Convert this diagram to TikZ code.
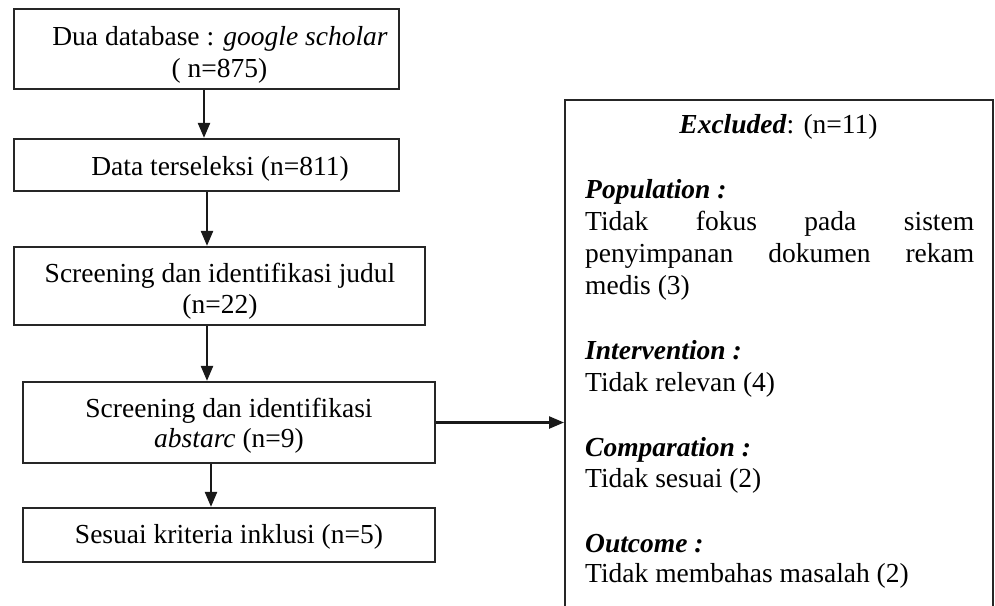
\documentclass[tikz,border=0pt]{standalone}
\usepackage{fontspec}
\setmainfont{Liberation Serif}
\usetikzlibrary{arrows.meta}
\tikzset{
  box/.style={draw=black!85, line width=2.2pt, inner sep=0pt, fill=none},
  txt/.style={inner sep=0pt, anchor=base, font=\fontsize{27.5}{32}\selectfont},
  ltxt/.style={txt, anchor=base west},
  arr/.style={line width=2.4pt, draw=black!90, -{Triangle[length=15pt,width=12pt]}},
}
\begin{document}
\begin{tikzpicture}[x=1pt,y=-1pt]
\useasboundingbox (0,0) rectangle (995,605);
% left column boxes
\node[box, minimum width=385pt, minimum height=80pt] (b1) at (206.5,49) {};
\node[box, minimum width=385pt, minimum height=52pt] (b2) at (206.5,165) {};
\node[box, minimum width=411pt, minimum height=78pt] (b3) at (219.5,286) {};
\node[box, minimum width=412pt, minimum height=81pt] (b4) at (229,422.5) {};
\node[box, minimum width=412pt, minimum height=54pt] (b5) at (229,535) {};
% right box (runs past the bottom edge)
\node[box, minimum width=428pt, minimum height=540pt, anchor=north west] (ex) at (564,99) {};

% left texts
\node[txt] (t1a) at (220,45) {Dua database : \textit{google scholar}};
\node[txt] (t1b) at (219.5,77) {( n=875)};
\node[txt] (t2) at (220,175) {Data terseleksi (n=811)};
\node[txt] (t3a) at (220,282) {Screening dan identifikasi judul};
\node[txt] (t3b) at (220,313) {(n=22)};
\node[txt] (t4a) at (229,417) {Screening dan identifikasi};
\node[txt] (t4b) at (229,447) {\textit{abstarc} (n=9)};
\node[txt] (t5) at (229,543) {Sesuai kriteria inklusi (n=5)};

% right texts
\node[txt] (e0) at (778.5,133) {\textbf{\textit{Excluded}}: (n=11)};
\node[ltxt] (e1) at (585,198) {\textbf{\textit{Population :}}};
\node[ltxt] (e2) at (585,230) {\makebox[389pt][s]{Tidak fokus pada sistem}};
\node[ltxt] (e3) at (585,262) {\makebox[389pt][s]{penyimpanan dokumen rekam}};
\node[ltxt] (e4) at (585,294) {medis (3)};
\node[ltxt] (e5) at (585,359) {\textbf{\textit{Intervention :}}};
\node[ltxt] (e6) at (585,391) {Tidak relevan (4)};
\node[ltxt] (e7) at (585,456) {\textbf{\textit{Comparation :}}};
\node[ltxt] (e8) at (585,487) {Tidak sesuai (2)};
\node[ltxt] (e9) at (585,552) {\textbf{\textit{Outcome :}}};
\node[ltxt] (e10) at (585,582) {Tidak membahas masalah (2)};

% connectors
\draw[arr] ([xshift=-2.5pt]b1.south) -- ([xshift=-2.5pt]b1.south |- b2.north);
\draw[arr] ([xshift=0.5pt]b2.south) -- ([xshift=0.5pt]b2.south |- b3.north);
\draw[arr] ([xshift=-12.5pt]b3.south) -- ([xshift=-12.5pt]b3.south |- b4.north);
\draw[arr] ([xshift=-18pt]b4.south) -- ([xshift=-18pt]b4.south |- b5.north);
\draw[arr] (b4.east) -- (b4.east -| ex.west);
\end{tikzpicture}
\end{document}
